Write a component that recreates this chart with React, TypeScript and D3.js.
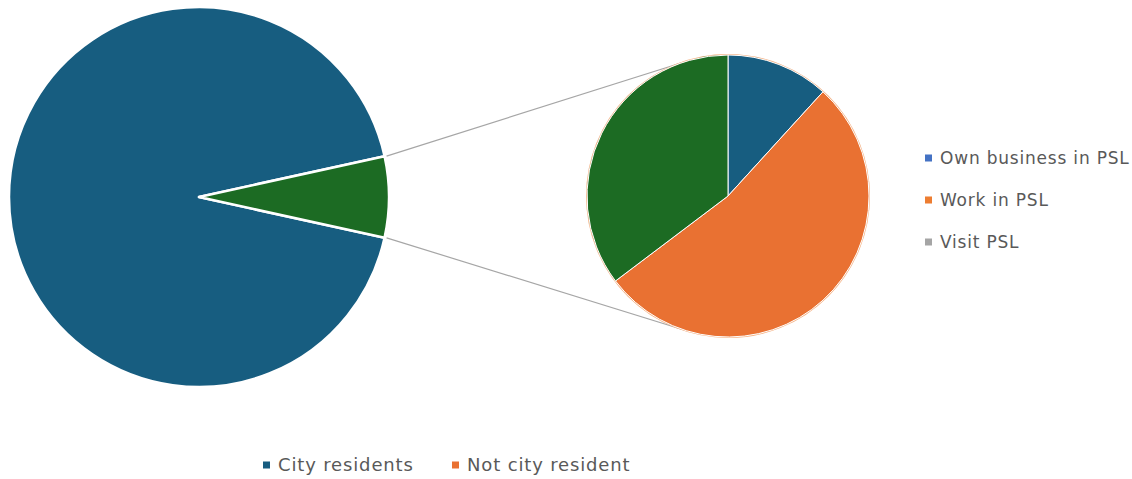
import React from "react";
import * as d3 from "d3";

const mainCategories = ["City residents", "Not city resident"];
const mainValues = [459, 34];
const mainColors = ["#175d80", "#1c6b23"];

const subCategories = ["Own business in PSL", "Work in PSL", "Visit PSL"];
const subValues = [4, 18, 12];
const subColors = ["#175d80", "#e97132", "#1c6b23"];

const rightLegendColors = ["#4472c4", "#ed7d31", "#a5a5a5"];
const bottomLegendColors = ["#175d80", "#e97132"];

const W = 1132;
const H = 479;

export default function App() {
  const big = { cx: 199, cy: 197, r: 190 };
  const small = { cx: 728, cy: 196, r: 141 };

  const total = d3.sum(mainValues);
  const otherAngle = (mainValues[1] / total) * 2 * Math.PI;
  const otherStart = Math.PI / 2 - otherAngle / 2;
  const mainPie = d3
    .pie<number>()
    .sort(null)
    .startAngle(otherStart + otherAngle)
    .endAngle(otherStart + otherAngle + 2 * Math.PI);
  const mainArcs = mainPie(mainValues);
  const bigArc = d3.arc<d3.PieArcDatum<number>>().innerRadius(0).outerRadius(big.r);

  const subPie = d3.pie<number>().sort(null).startAngle(0).endAngle(2 * Math.PI);
  const subArcs = subPie(subValues);
  const smallArc = d3.arc<d3.PieArcDatum<number>>().innerRadius(0).outerRadius(small.r);

  const p1 = [big.cx + big.r * Math.sin(otherStart), big.cy - big.r * Math.cos(otherStart)];
  const p2 = [
    big.cx + big.r * Math.sin(otherStart + otherAngle),
    big.cy - big.r * Math.cos(otherStart + otherAngle),
  ];

  function tangent(p: number[], upper: boolean) {
    const dx = p[0] - small.cx;
    const dy = p[1] - small.cy;
    const d = Math.sqrt(dx * dx + dy * dy);
    const base = Math.atan2(dy, dx);
    const off = Math.acos(small.r / d);
    const c1 = [small.cx + small.r * Math.cos(base + off), small.cy + small.r * Math.sin(base + off)];
    const c2 = [small.cx + small.r * Math.cos(base - off), small.cy + small.r * Math.sin(base - off)];
    if (upper) return c1[1] < c2[1] ? c1 : c2;
    return c1[1] > c2[1] ? c1 : c2;
  }
  const t1 = tangent(p1, true);
  const t2 = tangent(p2, false);

  const font = "'DejaVu Sans', Verdana, sans-serif";

  return (
    <svg width={W} height={H} style={{ position: "absolute", left: 0, top: 0, background: "#fff" }}>
      <line x1={p1[0] + 2} y1={p1[1]} x2={t1[0]} y2={t1[1]} stroke="#a6a6a6" strokeWidth={1.2} />
      <line x1={p2[0] + 2} y1={p2[1]} x2={t2[0]} y2={t2[1]} stroke="#a6a6a6" strokeWidth={1.2} />
      <g transform={`translate(${big.cx},${big.cy})`}>
        {mainArcs.map((a, i) => (
          <path key={i} d={bigArc(a) || ""} fill={mainColors[i]} stroke="#fff" strokeWidth={2.5} strokeLinejoin="round" />
        ))}
      </g>
      <g transform={`translate(${small.cx},${small.cy})`}>
        <circle r={small.r} fill="none" stroke="#f4b183" strokeWidth={2} />
        {subArcs.map((a, i) => (
          <path key={i} d={smallArc(a) || ""} fill={subColors[i]} stroke="#fff" strokeWidth={1} />
        ))}
      </g>
      {subCategories.map((c, i) => (
        <g key={c} transform={`translate(925,${158 + i * 42})`}>
          <rect x={0} y={-3.5} width={7} height={7} fill={rightLegendColors[i]} />
          <text x={15} y={0} dy="0.35em" fontFamily={font} fontSize={17} letterSpacing={0.8} fill="#595959">
            {c}
          </text>
        </g>
      ))}
      {mainCategories.map((c, i) => (
        <g key={c} transform={`translate(${[263, 452][i]},465)`}>
          <rect x={0} y={-3.5} width={7} height={7} fill={bottomLegendColors[i]} />
          <text x={15} y={0} dy="0.35em" fontFamily={font} fontSize={18} letterSpacing={0.85} fill="#595959">
            {c}
          </text>
        </g>
      ))}
    </svg>
  );
}
